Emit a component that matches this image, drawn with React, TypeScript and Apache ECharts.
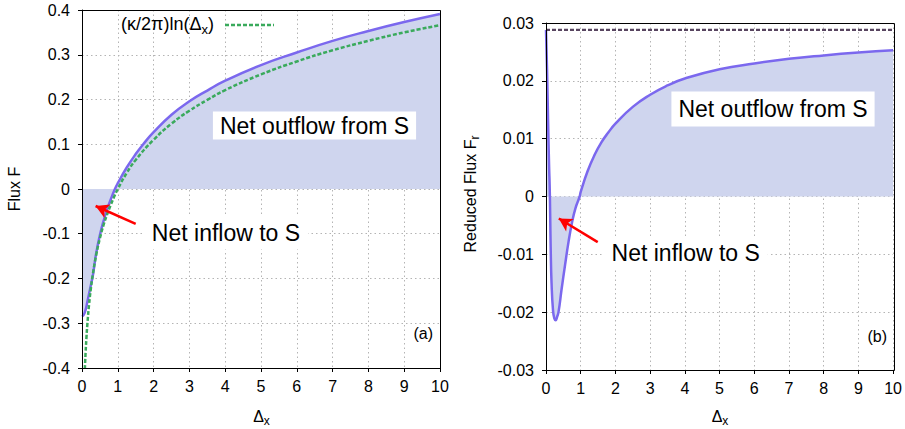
import React, { useEffect, useRef } from "react";
import * as echarts from "echarts";

// ---------- data ----------
const xTicks = [0, 1, 2, 3, 4, 5, 6, 7, 8, 9, 10];
const leftYTicks = ["-0.4", "-0.3", "-0.2", "-0.1", "0", "0.1", "0.2", "0.3", "0.4"];
const rightYTicks = ["-0.03", "-0.02", "-0.01", "0", "0.01", "0.02", "0.03"];

// Panel (a): flux F
const fluxX = [0, 0.05, 0.1, 0.15, 0.2, 0.25, 0.3, 0.35, 0.4, 0.5, 0.6, 0.7, 0.8, 0.92, 1.0, 1.25, 1.5, 1.71, 2, 2.5, 3, 3.5, 4, 5, 6, 7, 8, 9, 10];
const fluxF = [-0.285, -0.281, -0.27, -0.252, -0.233, -0.214, -0.195, -0.168, -0.142, -0.103, -0.072, -0.046, -0.024, 0, 0.013, 0.048, 0.078, 0.1, 0.127, 0.166, 0.196, 0.22, 0.242, 0.277, 0.305, 0.331, 0.353, 0.373, 0.391];

// Panel (a): (κ/2π) ln(Δx)
const logX = [0.08, 0.1, 0.125, 0.15, 0.2, 0.25, 0.3, 0.4, 0.5, 0.6, 0.7, 0.8, 0.9, 1, 1.25, 1.5, 2, 2.5, 3, 3.5, 4, 5, 6, 7, 8, 9, 10];
const logF = [-0.402, -0.366, -0.331, -0.302, -0.256, -0.221, -0.192, -0.146, -0.11, -0.081, -0.057, -0.036, -0.017, 0, 0.036, 0.065, 0.11, 0.146, 0.175, 0.199, 0.221, 0.256, 0.285, 0.31, 0.331, 0.35, 0.366];

// Panel (b): reduced flux Fr
const redX = [0, 0.03, 0.06, 0.09, 0.105, 0.12, 0.135, 0.16, 0.2, 0.24, 0.28, 0.32, 0.36, 0.45, 0.55, 0.65, 0.75, 0.85, 0.97, 1.0, 1.2, 1.4, 1.6, 1.8, 2, 2.5, 3, 3.5, 4, 5, 6, 7, 8, 9, 10];
const redF = [0.0288, 0.022, 0.013, 0.005, 0.002, -0.003, -0.009, -0.015, -0.0195, -0.0211, -0.0214, -0.0208, -0.02, -0.016, -0.0118, -0.0078, -0.0045, -0.002, 0, 0.0008, 0.0044, 0.0072, 0.0094, 0.0111, 0.0126, 0.0155, 0.0176, 0.0192, 0.0204, 0.022, 0.023, 0.0238, 0.0244, 0.0249, 0.0253];

// Panel (b): asymptote
const asymX = [0, 10];
const asymF = [0.0288, 0.0288];

// Arrows (data coordinates: tail -> head)
const arrowA = [[1.5, -0.078], [0.38, -0.038]];
const arrowB = [[1.49, -0.0079], [0.37, -0.0038]];

// ---------- styling ----------
const FONT = "'Liberation Sans', Arial, Helvetica, sans-serif";
const PURPLE = "#7b68ee";
const FILL = "#cfd5ee";
const GREEN = "#3aaa5c";
const ASYM = "#584560";
const GRIDC = "#b4b4b4";

const GA = { left: 82, top: 10, width: 358, height: 358 };
const GB = { left: 546, top: 23, width: 348, height: 347 };

const zip = (xs: number[], ys: number[]) => xs.map((x, i) => [x, ys[i]]);

function makeX(gi: number) {
  return {
    type: "value",
    gridIndex: gi,
    min: xTicks[0],
    max: xTicks[xTicks.length - 1],
    interval: 1,
    axisLine: { show: true, onZero: false, lineStyle: { color: "#000", width: 1 } },
    axisTick: { show: true, length: 4, lineStyle: { color: "#000" } },
    axisLabel: {
      color: "#000",
      fontSize: 16,
      fontFamily: FONT,
      margin: 10,
      formatter: (v: number) => {
        const i = xTicks.findIndex((t) => Math.abs(t - v) < 1e-9);
        return i >= 0 ? String(xTicks[i]) : "";
      },
    },
    splitLine: { show: true, lineStyle: { color: GRIDC, type: [1.5, 3], width: 1 } },
  };
}

function makeY(gi: number, labels: string[], interval: number) {
  const vals = labels.map(Number);
  return {
    type: "value",
    gridIndex: gi,
    min: vals[0],
    max: vals[vals.length - 1],
    interval,
    axisLine: { show: true, onZero: false, lineStyle: { color: "#000", width: 1 } },
    axisTick: { show: true, length: 4, lineStyle: { color: "#000" } },
    axisLabel: {
      color: "#000",
      fontSize: 16,
      fontFamily: FONT,
      margin: 12,
      formatter: (v: number) => {
        const i = vals.findIndex((t) => Math.abs(t - v) < interval / 1000);
        return i >= 0 ? labels[i] : "";
      },
    },
    splitLine: { show: true, lineStyle: { color: GRIDC, type: [1.5, 3], width: 1 } },
  };
}

function arrowMark(a: number[][]) {
  return {
    silent: true,
    symbol: ["none", "arrow"],
    symbolSize: [11, 13],
    lineStyle: { color: "#ff0000", width: 2.5, type: "solid" },
    label: { show: false },
    emphasis: { disabled: true },
    data: [[{ coord: a[0] }, { coord: a[1] }]],
  };
}

function txt(x: number, y: number, text: string, fontSize: number, align: string, extra: any = {}) {
  return {
    type: "text",
    x,
    y,
    z: 120,
    silent: true,
    style: {
      text,
      fill: "#000",
      fontSize,
      fontFamily: FONT,
      align,
      textAlign: align,
      verticalAlign: "middle",
      textVerticalAlign: "middle",
      ...extra,
    },
  };
}

function richSub(main: string, sub: string, after: string, fs: number, subFs: number, lh: number) {
  return {
    text: `{m|${main}}{s|${sub}}` + (after ? `{m|${after}}` : ""),
    rich: {
      m: { fontSize: fs, fontFamily: FONT, fill: "#000", color: "#000", lineHeight: lh },
      s: { fontSize: subFs, fontFamily: FONT, fill: "#000", color: "#000", lineHeight: subFs, verticalAlign: "bottom" },
    },
  };
}

function frame(g: { left: number; top: number; width: number; height: number }) {
  return {
    type: "rect",
    z: 110,
    silent: true,
    shape: { x: g.left + 0.5, y: g.top + 0.5, width: g.width, height: g.height },
    style: { fill: "none", stroke: "#000", lineWidth: 1 },
  };
}

export default function App() {
  const ref = useRef<HTMLDivElement>(null);
  useEffect(() => {
    if (!ref.current) return;
    const chart = echarts.init(ref.current, null, { renderer: "svg" });
    const option: any = {
      animation: false,
      backgroundColor: "#fff",
      textStyle: { fontFamily: FONT },
      grid: [
        { ...GA, containLabel: false },
        { ...GB, containLabel: false },
      ],
      xAxis: [makeX(0), makeX(1)],
      yAxis: [makeY(0, leftYTicks, 0.1), makeY(1, rightYTicks, 0.01)],
      series: [
        {
          name: "F",
          type: "line",
          xAxisIndex: 0,
          yAxisIndex: 0,
          data: zip(fluxX, fluxF),
          showSymbol: false,
          symbol: "none",
          smooth: 0.5,
          lineStyle: { color: PURPLE, width: 2.5 },
          areaStyle: { color: FILL, opacity: 1, origin: "auto" },
          z: 2,
          markLine: arrowMark(arrowA),
        },
        {
          name: "log",
          type: "line",
          xAxisIndex: 0,
          yAxisIndex: 0,
          data: zip(logX, logF),
          showSymbol: false,
          symbol: "none",
          smooth: 0.5,
          lineStyle: { color: GREEN, width: 2.5, type: [4, 2] },
          z: 3,
        },
        {
          name: "Fr",
          type: "line",
          xAxisIndex: 1,
          yAxisIndex: 1,
          data: zip(redX, redF),
          showSymbol: false,
          symbol: "none",
          smooth: 0.5,
          lineStyle: { color: PURPLE, width: 2.5 },
          areaStyle: { color: FILL, opacity: 1, origin: "auto" },
          z: 2,
          markLine: arrowMark(arrowB),
        },
        {
          name: "asym",
          type: "line",
          xAxisIndex: 1,
          yAxisIndex: 1,
          data: zip(asymX, asymF),
          showSymbol: false,
          symbol: "none",
          lineStyle: { color: ASYM, width: 2.2, type: [4, 2] },
          z: 3,
        },
      ],
      graphic: [
        frame(GA),
        frame(GB),
        // annotations
        txt(314.5, 125.5, "Net outflow from S", 23, "center", { backgroundColor: "#fff", padding: [3, 7, 2, 7] }),
        txt(773, 109, "Net outflow from S", 23, "center", { backgroundColor: "#fff", padding: [6, 7, 6, 7] }),
        txt(226, 233, "Net inflow to S", 23, "center", { backgroundColor: "#fff", padding: [5, 8, 5, 8] }),
        txt(685.7, 253.3, "Net inflow to S", 23, "center", { backgroundColor: "#fff", padding: [5, 8, 5, 8] }),
        txt(433, 333.3, "(a)", 16, "right"),
        txt(887, 336.7, "(b)", 16, "right"),
        // legend
        {
          type: "text",
          x: 214,
          y: 24,
          z: 120,
          silent: true,
          style: {
            ...richSub("(κ/2π)ln(Δ", "x", ")", 18, 13, 24),
            align: "right",
            textAlign: "right",
            verticalAlign: "middle",
            textVerticalAlign: "middle",
          },
        },
        {
          type: "line",
          z: 120,
          silent: true,
          shape: { x1: 225, y1: 25, x2: 274, y2: 25 },
          style: { stroke: GREEN, lineWidth: 2.5, lineDash: [4, 2] },
        },
        // axis names
        {
          type: "text",
          x: 14,
          y: 189,
          rotation: Math.PI / 2,
          z: 120,
          silent: true,
          style: { text: "Flux F", fill: "#000", fontSize: 16, fontFamily: FONT, align: "center", textAlign: "center", verticalAlign: "middle", textVerticalAlign: "middle" },
        },
        {
          type: "text",
          x: 470,
          y: 194,
          rotation: Math.PI / 2,
          z: 120,
          silent: true,
          style: {
            ...richSub("Reduced Flux F", "r", "", 16, 12, 22),
            align: "center",
            textAlign: "center",
            verticalAlign: "middle",
            textVerticalAlign: "middle",
          },
        },
        {
          type: "text",
          x: 261.5,
          y: 416,
          z: 120,
          silent: true,
          style: { ...richSub("Δ", "x", "", 16, 12, 22), align: "center", textAlign: "center", verticalAlign: "middle", textVerticalAlign: "middle" },
        },
        {
          type: "text",
          x: 720,
          y: 416,
          z: 120,
          silent: true,
          style: { ...richSub("Δ", "x", "", 16, 12, 22), align: "center", textAlign: "center", verticalAlign: "middle", textVerticalAlign: "middle" },
        },
      ],
    };
    chart.setOption(option);
    return () => chart.dispose();
  }, []);
  return (
    <div
      ref={ref}
      style={{ position: "fixed", left: 0, top: 0, width: 905, height: 429, background: "#fff" }}
    />
  );
}
